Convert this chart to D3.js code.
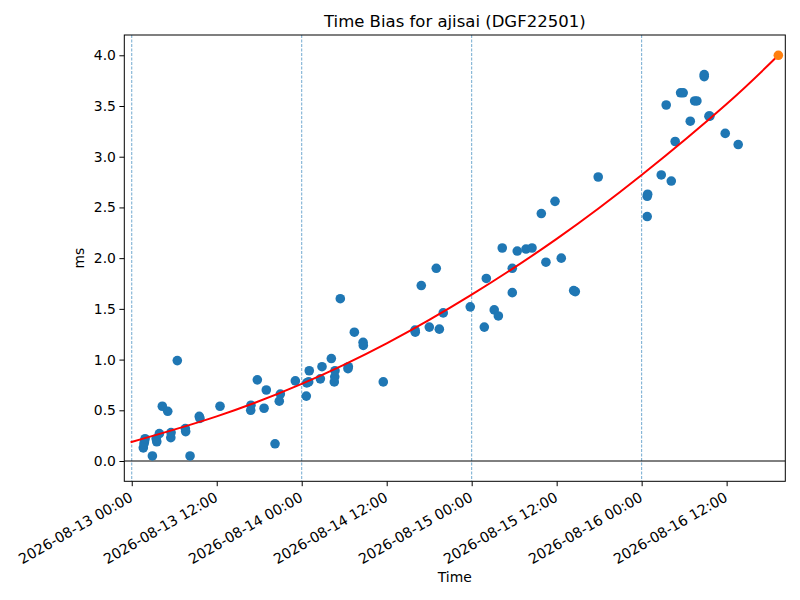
<!DOCTYPE html>
<html lang="en">
<head>
    <meta charset="UTF-8">
    <title>Time Bias for ajisai (DGF22501)</title>
    <script src="https://d3js.org/d3.v7.min.js"></script>
    <style>
        html, body { margin: 0; padding: 0; background: #fff; }
        body { font-family: 'DejaVu Sans', sans-serif; }
        .axis text { font-family: 'DejaVu Sans', sans-serif; font-size: 13.9px; fill: #000; }
        .axis path, .axis line { stroke: #000; stroke-width: 1; }
    </style>
</head>
<body>
    <div id="chart"></div>

    <script>
        // Measured samples (UTC) and time bias in ms
        const sampleTimes = [
            "2026-08-13 01:38", "2026-08-13 01:44", "2026-08-13 01:48", "2026-08-13 01:53",
            "2026-08-13 02:55", "2026-08-13 03:27", "2026-08-13 03:32", "2026-08-13 03:54",
            "2026-08-13 04:19", "2026-08-13 05:05", "2026-08-13 05:31", "2026-08-13 05:33",
            "2026-08-13 06:26", "2026-08-13 07:34", "2026-08-13 07:37", "2026-08-13 08:14",
            "2026-08-13 09:32", "2026-08-13 09:38", "2026-08-13 12:28", "2026-08-13 16:48",
            "2026-08-13 16:50", "2026-08-13 17:44", "2026-08-13 18:41", "2026-08-13 19:00",
            "2026-08-13 20:14", "2026-08-13 20:50", "2026-08-13 20:59", "2026-08-13 23:06",
            "2026-08-14 00:39", "2026-08-14 00:43", "2026-08-14 00:59", "2026-08-14 01:04",
            "2026-08-14 02:38", "2026-08-14 02:52", "2026-08-14 04:11", "2026-08-14 04:36",
            "2026-08-14 04:40", "2026-08-14 04:42", "2026-08-14 05:27", "2026-08-14 06:32",
            "2026-08-14 06:35", "2026-08-14 07:26", "2026-08-14 08:40", "2026-08-14 08:42",
            "2026-08-14 11:31", "2026-08-14 16:00", "2026-08-14 16:02", "2026-08-14 16:53",
            "2026-08-14 18:01", "2026-08-14 19:00", "2026-08-14 19:26", "2026-08-14 19:59",
            "2026-08-14 23:48", "2026-08-15 01:47", "2026-08-15 02:04", "2026-08-15 03:11",
            "2026-08-15 03:46", "2026-08-15 04:19", "2026-08-15 05:44", "2026-08-15 05:44",
            "2026-08-15 06:26", "2026-08-15 07:40", "2026-08-15 08:31", "2026-08-15 09:50",
            "2026-08-15 10:29", "2026-08-15 11:46", "2026-08-15 12:39", "2026-08-15 14:24",
            "2026-08-15 14:38", "2026-08-15 17:52", "2026-08-16 00:47", "2026-08-16 00:47",
            "2026-08-16 00:51", "2026-08-16 02:46", "2026-08-16 03:28", "2026-08-16 04:11",
            "2026-08-16 04:44", "2026-08-16 05:30", "2026-08-16 05:52", "2026-08-16 06:52",
            "2026-08-16 07:29", "2026-08-16 07:48", "2026-08-16 08:50", "2026-08-16 08:50",
            "2026-08-16 09:30", "2026-08-16 09:38", "2026-08-16 11:48", "2026-08-16 13:38"
        ];
        const sampleBias = [
            0.13, 0.17, 0.19, 0.22,
            0.05, 0.22, 0.19, 0.27,
            0.54, 0.49, 0.23, 0.28,
            0.99, 0.32, 0.29, 0.05,
            0.44, 0.42, 0.54, 0.50,
            0.55, 0.80, 0.52, 0.70,
            0.17, 0.59, 0.66, 0.79,
            0.64, 0.77, 0.78, 0.89,
            0.81, 0.93, 1.01, 0.78,
            0.83, 0.89, 1.60, 0.91,
            0.93, 1.27, 1.17, 1.14,
            0.78, 1.29, 1.27, 1.73,
            1.32, 1.90, 1.30, 1.46,
            1.52, 1.32, 1.80, 1.49,
            1.43, 2.10, 1.66, 1.90,
            2.07, 2.09, 2.10, 2.44,
            1.96, 2.56, 2.00, 1.68,
            1.67, 2.80, 2.41, 2.61,
            2.63, 2.82, 3.51, 2.76,
            3.15, 3.63, 3.63, 3.35,
            3.55, 3.55, 3.79, 3.81,
            3.40, 3.40, 3.23, 3.12
        ];

        // Predicted point (orange)
        const predTime = "2026-08-16 19:18";
        const predBias = 4.0;

        // Fitted trend
        const fitTimes = [
            "2026-08-12 23:50", "2026-08-13 12:00", "2026-08-14 00:00",
            "2026-08-14 12:00", "2026-08-15 00:00", "2026-08-15 12:00", "2026-08-16 00:00",
            "2026-08-16 12:00", "2026-08-16 19:18"
        ];
        const fitBias = [0.185, 0.44, 0.76, 1.16, 1.64, 2.19, 2.82, 3.52, 4.0];

        const midnightLines = ["2026-08-13 00:00", "2026-08-14 00:00", "2026-08-15 00:00", "2026-08-16 00:00"];
        const xTickTimes = [
            "2026-08-13 00:00", "2026-08-13 12:00", "2026-08-14 00:00", "2026-08-14 12:00",
            "2026-08-15 00:00", "2026-08-15 12:00", "2026-08-16 00:00", "2026-08-16 12:00"
        ];
        const yTicks = [0.0, 0.5, 1.0, 1.5, 2.0, 2.5, 3.0, 3.5, 4.0];
        const xDomain = ["2026-08-12 22:57", "2026-08-16 20:17"];
        const yDomain = [-0.2, 4.2];

        const parseTime = d3.utcParse("%Y-%m-%d %H:%M");
        const fmtTime = d3.utcFormat("%Y-%m-%d %H:%M");

        const width = 800, height = 600;
        const margin = { top: 35, right: 14.7, bottom: 118.7, left: 124.3 };
        const innerW = width - margin.left - margin.right;
        const innerH = height - margin.top - margin.bottom;

        const svg = d3.select("#chart").append("svg")
            .attr("width", width)
            .attr("height", height);

        const g = svg.append("g").attr("transform", `translate(${margin.left},${margin.top})`);

        const x = d3.scaleUtc().domain(xDomain.map(parseTime)).range([0, innerW]);
        const y = d3.scaleLinear().domain(yDomain).range([innerH, 0]);

        g.append("defs").append("clipPath").attr("id", "plot-clip")
            .append("rect").attr("width", innerW).attr("height", innerH);

        const plot = g.append("g").attr("clip-path", "url(#plot-clip)");

        // day separators
        plot.selectAll("line.day")
            .data(midnightLines.map(parseTime))
            .enter().append("line")
            .attr("class", "day")
            .attr("x1", d => x(d)).attr("x2", d => x(d))
            .attr("y1", 0).attr("y2", innerH)
            .attr("stroke", "#1f77b4")
            .attr("stroke-opacity", 0.7)
            .attr("stroke-width", 0.9)
            .attr("stroke-dasharray", "3,1.5");

        // zero line
        plot.append("line")
            .attr("x1", 0).attr("x2", innerW)
            .attr("y1", y(0)).attr("y2", y(0))
            .attr("stroke", "#000")
            .attr("stroke-width", 1);

        // samples
        const samples = sampleTimes.map((t, i) => ({ t: parseTime(t), v: sampleBias[i] }));
        plot.selectAll("circle.sample")
            .data(samples)
            .enter().append("circle")
            .attr("class", "sample")
            .attr("cx", d => x(d.t))
            .attr("cy", d => y(d.v))
            .attr("r", 4.8)
            .attr("fill", "#1f77b4");

        // fitted curve
        const fit = fitTimes.map((t, i) => ({ t: parseTime(t), v: fitBias[i] }));
        plot.append("path")
            .datum(fit)
            .attr("fill", "none")
            .attr("stroke", "red")
            .attr("stroke-width", 2)
            .attr("d", d3.line().x(d => x(d.t)).y(d => y(d.v)).curve(d3.curveNatural));

        // prediction
        plot.append("circle")
            .attr("cx", x(parseTime(predTime)))
            .attr("cy", y(predBias))
            .attr("r", 4.8)
            .attr("fill", "#ff7f0e");

        // axes
        const xAxis = g.append("g")
            .attr("class", "axis")
            .attr("transform", `translate(0,${innerH})`)
            .call(d3.axisBottom(x)
                .tickValues(xTickTimes.map(parseTime))
                .tickFormat(fmtTime)
                .tickSizeOuter(0)
                .tickSize(4.9));
        xAxis.select(".domain").remove();
        xAxis.selectAll("text")
            .attr("text-anchor", "end")
            .attr("x", 0)
            .attr("y", 0)
            .attr("dy", 0)
            .style("font-size", "14.3px")
            .attr("transform", "translate(1.6,18.8) rotate(-30)");

        const yAxis = g.append("g")
            .attr("class", "axis")
            .call(d3.axisLeft(y)
                .tickValues(yTicks)
                .tickFormat(d3.format(".1f"))
                .tickSizeOuter(0)
                .tickSize(4.9)
                .tickPadding(3.5));
        yAxis.select(".domain").remove();

        // frame
        g.append("rect")
            .attr("width", innerW).attr("height", innerH)
            .attr("fill", "none")
            .attr("stroke", "#000")
            .attr("stroke-width", 1);

        // labels
        svg.append("text")
            .attr("x", margin.left + innerW / 2)
            .attr("y", 27)
            .attr("text-anchor", "middle")
            .style("font-size", "16.5px")
            .text("Time Bias for ajisai (DGF22501)");

        svg.append("text")
            .attr("x", margin.left + innerW / 2)
            .attr("y", 582)
            .attr("text-anchor", "middle")
            .style("font-size", "13.9px")
            .text("Time");

        svg.append("text")
            .attr("transform", `translate(84,${margin.top + innerH / 2}) rotate(-90)`)
            .attr("text-anchor", "middle")
            .style("font-size", "13.9px")
            .text("ms");
    </script>
</body>
</html>
